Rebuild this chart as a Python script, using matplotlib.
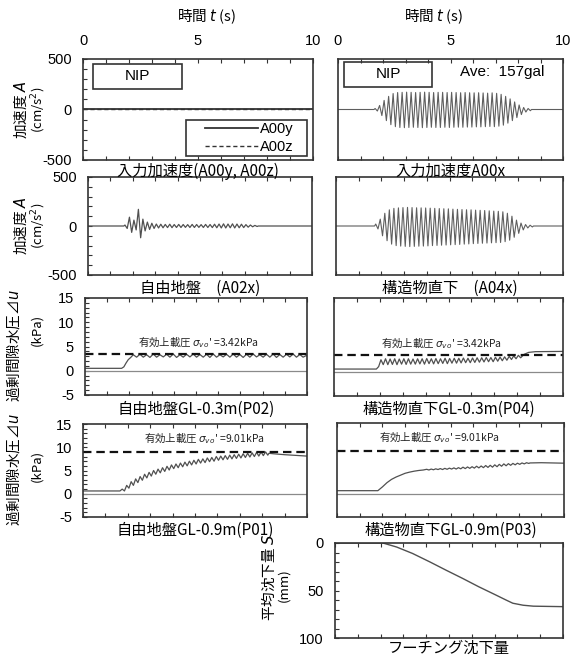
import matplotlib
matplotlib.use("Agg")
import matplotlib.pyplot as plt
from matplotlib.patches import Rectangle
from matplotlib.ticker import MultipleLocator

plt.rcParams["font.family"] = ["Liberation Sans Narrow", "Liberation Sans", "Noto Sans CJK JP"]
plt.rcParams["axes.unicode_minus"] = False
plt.rcParams["mathtext.fontset"] = "dejavusans"

JP = "Noto Sans CJK JP"
NARROW_JP = ["Liberation Sans Narrow", "Noto Sans CJK JP"]

# ---------------- data ----------------
time_limits = [0, 10]

# input acceleration, transverse / vertical components (cm/s^2)
a00y_t = [0.0, 10.0]
a00y_v = [0.0, 0.0]
a00z_t = [0.0, 10.0]
a00z_v = [0.0, 0.0]

# input acceleration A00x: peak / trough of each 0.2 s cycle
a00x_pre_t, a00x_pre_v = [0.0, 1.6], [0.0, 0.0]
a00x_t0, a00x_period = 1.6, 0.2
a00x_hi = [10, 40, 90, 130, 158, 168, 170, 172, 170, 168, 170, 172, 170, 168, 170,
           170, 168, 170, 168, 166, 168, 166, 165, 166, 164, 162, 165, 160, 150, 130,
           105, 75, 45, 20, 10]
a00x_lo = [-15, -60, -110, -150, -170, -178, -180, -178, -176, -178, -180, -178, -176,
           -178, -178, -176, -178, -176, -175, -176, -174, -174, -172, -172, -170, -168,
           -170, -165, -155, -135, -110, -80, -50, -25, -12]
a00x_post_t, a00x_post_v = [8.6, 10.0], [0.0, 0.0]
a00x_average = 157

# free field A02x
a02x_pre_t, a02x_pre_v = [0.0, 1.6], [0.0, 0.0]
a02x_t0, a02x_period = 1.6, 0.2
a02x_hi = [10, 90, 60, 170, 70, 40, 28, 20, 18, 16, 18, 15, 16, 15, 14, 16, 15, 14, 16,
           15, 18, 20, 22, 20, 22, 20, 18, 14, 10, 6]
a02x_lo = [-25, -65, -40, -120, -50, -35, -25, -20, -18, -16, -17, -15, -15, -14, -15,
           -15, -14, -15, -15, -16, -18, -20, -20, -18, -20, -18, -16, -12, -8, -5]
a02x_post_t, a02x_post_v = [7.6, 10.0], [0.0, 0.0]

# beneath structure A04x
a04x_pre_t, a04x_pre_v = [0.0, 1.7], [0.0, 0.0]
a04x_t0, a04x_period = 1.7, 0.2
a04x_hi = [20, 70, 130, 165, 180, 185, 188, 190, 188, 186, 185, 184, 182, 180, 178, 176,
           175, 172, 170, 168, 166, 165, 162, 160, 158, 155, 152, 150, 145, 130, 100, 60,
           30, 15, 8]
a04x_lo = [-30, -100, -150, -185, -200, -205, -208, -210, -208, -206, -205, -203, -200,
           -198, -196, -194, -192, -190, -188, -185, -183, -180, -178, -176, -174, -172,
           -170, -168, -160, -145, -115, -75, -40, -20, -10]
a04x_post_t, a04x_post_v = [8.7, 10.0], [0.0, 0.0]

# effective overburden pressure (kPa)
sigma_vo_03 = 3.42
sigma_vo_09 = 9.01

# excess pore pressure, free field GL-0.3m (P02)
p02_pre_t = [0.0, 1.65, 1.75, 1.85, 1.95, 2.05]
p02_pre_v = [0.5, 0.5, 0.8, 1.6, 2.3, 2.7]
p02_t0, p02_period = 2.1, 0.3
p02_hi = [3.3, 3.4, 3.3, 3.45, 3.3, 3.4, 3.45, 3.3, 3.4, 3.45, 3.35, 3.4, 3.45, 3.3,
          3.4, 3.45, 3.35, 3.4, 3.45, 3.3, 3.4, 3.45, 3.35, 3.4, 3.45, 3.35]
p02_lo = [2.8, 2.8, 2.75, 2.8, 2.85, 2.8, 2.75, 2.8, 2.85, 2.8, 2.8, 2.75, 2.8, 2.85,
          2.8, 2.8, 2.75, 2.8, 2.85, 2.8, 2.8, 2.75, 2.8, 2.85, 2.8, 2.8]
p02_post_t, p02_post_v = [9.95, 10.0], [3.1, 3.1]

# excess pore pressure, beneath structure GL-0.3m (P04)
p04_pre_t = [0.0, 1.85, 1.95]
p04_pre_v = [0.5, 0.5, 1.0]
p04_t0, p04_period = 2.0, 0.2
p04_hi = [2.4, 2.6, 2.55, 2.6, 2.55, 2.6, 2.6, 2.55, 2.6, 2.6, 2.65, 2.6, 2.65, 2.6,
          2.7, 2.65, 2.7, 2.7, 2.75, 2.7, 2.75, 2.8, 2.8, 2.85, 2.85, 2.9, 2.95, 3.0,
          3.1, 3.2, 3.3]
p04_lo = [1.4, 1.4, 1.45, 1.4, 1.5, 1.45, 1.5, 1.5, 1.55, 1.5, 1.6, 1.55, 1.6, 1.65,
          1.6, 1.7, 1.7, 1.75, 1.8, 1.8, 1.85, 1.9, 1.95, 2.0, 2.0, 2.1, 2.2, 2.3, 2.45,
          2.6, 2.8]
p04_post_t = [8.3, 8.5, 8.8, 10.0]
p04_post_v = [3.5, 3.9, 4.05, 4.1]

# excess pore pressure, free field GL-0.9m (P01)
p01_pre_t, p01_pre_v = [0.0, 1.65], [0.6, 0.6]
p01_t0, p01_period = 1.7, 0.2
p01_hi = [1.0, 1.8, 2.6, 3.2, 3.7, 4.2, 4.6, 5.0, 5.3, 5.6, 5.9, 6.2, 6.4, 6.6, 6.8,
          7.0, 7.2, 7.4, 7.5, 7.7, 7.8, 8.0, 8.1, 8.2, 8.3, 8.4, 8.5, 8.6, 8.7, 8.8,
          8.9, 9.0, 9.0]
p01_lo = [0.6, 1.2, 1.8, 2.4, 2.9, 3.4, 3.8, 4.2, 4.5, 4.8, 5.1, 5.4, 5.6, 5.8, 6.0,
          6.2, 6.4, 6.6, 6.7, 6.9, 7.0, 7.2, 7.3, 7.4, 7.5, 7.6, 7.7, 7.8, 7.9, 8.0,
          8.1, 8.2, 8.3]
p01_post_t = [8.3, 8.5, 9.0, 10.0]
p01_post_v = [8.7, 8.6, 8.4, 8.1]

# excess pore pressure, beneath structure GL-0.9m (P03)
p03_pre_t = [0.0, 1.8, 2.0, 2.2, 2.4, 2.6, 2.8, 3.0, 3.2, 3.4, 3.6, 3.8]
p03_pre_v = [0.6, 0.6, 1.4, 2.3, 3.0, 3.5, 3.9, 4.3, 4.55, 4.75, 4.9, 5.0]
p03_t0, p03_period = 3.9, 0.2
p03_hi = [5.15, 5.2, 5.25, 5.3, 5.35, 5.4, 5.45, 5.5, 5.6, 5.65, 5.7, 5.8, 5.85, 5.95,
          6.0, 6.1, 6.2, 6.3, 6.35, 6.4, 6.45, 6.5, 6.55]
p03_lo = [5.0, 5.05, 5.1, 5.1, 5.15, 5.2, 5.2, 5.25, 5.3, 5.35, 5.4, 5.45, 5.5, 5.55,
          5.6, 5.7, 5.8, 5.9, 6.0, 6.1, 6.2, 6.3, 6.4]
p03_post_t = [8.5, 9.0, 10.0]
p03_post_v = [6.5, 6.55, 6.45]

# footing settlement (mm)
settle_t = [0.0, 2.1, 2.7, 3.4, 4.16, 4.87, 5.6, 6.3, 7.05, 7.5, 7.8, 8.25, 8.7, 10.0]
settle_s = [0.0, 0.0, 4.2, 11.0, 19.9, 28.6, 37.3, 46.0, 54.7, 60.0, 63.4, 65.5, 66.5, 67.0]


def build(pre_t, pre_v, t0, period, hi, lo, post_t, post_v):
    """Join a lead-in, the per-cycle peaks/troughs and a tail into one polyline."""
    ts, vs = list(pre_t), list(pre_v)
    for i, (h, l) in enumerate(zip(hi, lo)):
        ts += [t0 + (i + 0.25) * period, t0 + (i + 0.75) * period]
        vs += [h, l]
    return ts + list(post_t), vs + list(post_v)


# ---------------- figure ----------------
W, H = 572, 659
fig = plt.figure(figsize=(W / 100, H / 100), dpi=100)
fig.patch.set_facecolor("white")

SPINE = "#333333"
TRACE = "#505050"
WAVE = "#5e5e5e"

# panel rectangles in pixels: left, top, right, bottom
PX = {
    "L1": (83, 59, 313, 160), "R1": (338, 59, 563, 160),
    "L2": (88, 177, 312, 275), "R2": (336, 177, 563, 275),
    "L3": (85, 298, 307, 395), "R3": (334, 298, 563, 396),
    "L4": (83, 424, 307, 517), "R4": (337, 423, 564, 517),
    "R5": (335, 543, 563, 638),
}


def fx(x):
    return x / W


def fy(y):
    return 1 - y / H


def panel(key, ylim, ymajor, yminor, show_y, top_labels=False):
    l, t, r, b = PX[key]
    ax = fig.add_axes([l / W, 1 - b / H, (r - l) / W, (b - t) / H])
    ax.set_xlim(*time_limits)
    ax.set_ylim(*ylim)
    ax.xaxis.set_major_locator(MultipleLocator(5))
    ax.xaxis.set_minor_locator(MultipleLocator(1))
    ax.tick_params(axis="x", which="both", direction="in", top=True, bottom=True,
                   length=3, width=0.8, color=SPINE, labelbottom=False,
                   labeltop=top_labels, labelsize=10.5, pad=8)
    if show_y:
        ax.yaxis.set_major_locator(MultipleLocator(ymajor))
        ax.yaxis.set_minor_locator(MultipleLocator(yminor))
        ax.tick_params(axis="y", which="both", direction="in", left=True, right=False,
                       length=3, width=0.8, color=SPINE, labelsize=10.5, pad=8)
    else:
        ax.tick_params(axis="y", which="both", left=False, right=False, labelleft=False)
    for s in ax.spines.values():
        s.set_color(SPINE)
        s.set_linewidth(1.2)
    return ax


def caption(key, text, y):
    l, t, r, b = PX[key]
    fig.text(fx((l + r) / 2), fy(y), text, ha="center", va="center",
             family=NARROW_JP, fontsize=11)


def box(x0, y0, x1, y1):
    fig.patches.append(Rectangle((fx(x0), fy(y1)), (x1 - x0) / W, (y1 - y0) / H,
                                 transform=fig.transFigure, fill=False,
                                 edgecolor=SPINE, linewidth=1.2))


def overburden(ax, value, tx, ty):
    ax.axhline(value, color="#111111", lw=1.6, dashes=(3.8, 2.2))
    ax.text(tx, ty, "有効上載圧 $\\sigma_{vo}$' =%.2fkPa" % value, ha="center",
            va="center", family=JP, fontsize=7.5, color="#222222")


# row 1 -------------------------------------------------------------
ax = panel("L1", (-500, 500), 500, 100, True, top_labels=True)
ly, = ax.plot(a00y_t, a00y_v, color=SPINE, lw=1.3)
lz, = ax.plot(a00z_t, a00z_v, color=SPINE, lw=1.0, dashes=(3, 2))
ax.legend([ly, lz], ["A00y", "A00z"], loc="center left",
          bbox_to_anchor=(fx(205), fy(138)), bbox_transform=fig.transFigure,
          frameon=False, borderpad=0, borderaxespad=0, handlelength=3.6,
          handletextpad=0.15, labelspacing=0.25, fontsize=10.5)
box(186, 120, 307, 156)
box(93, 64, 182, 89)
fig.text(fx(137.5), fy(76.5), "NIP", ha="center", va="center", fontsize=11)
caption("L1", "入力加速度(A00y, A00z)", 171)

ax = panel("R1", (-500, 500), 500, 100, False, top_labels=True)
ax.plot(*build(a00x_pre_t, a00x_pre_v, a00x_t0, a00x_period, a00x_hi, a00x_lo,
               a00x_post_t, a00x_post_v), color=WAVE, lw=0.8)
box(344, 62, 432, 87)
fig.text(fx(388), fy(74.5), "NIP", ha="center", va="center", fontsize=11)
fig.text(fx(502), fy(72), "Ave:  %dgal" % a00x_average, ha="center", va="center",
         fontsize=11)
caption("R1", "入力加速度A00x", 171)

# row 2 -------------------------------------------------------------
ax = panel("L2", (-500, 500), 500, 100, True)
ax.plot(*build(a02x_pre_t, a02x_pre_v, a02x_t0, a02x_period, a02x_hi, a02x_lo,
               a02x_post_t, a02x_post_v), color=TRACE, lw=0.9)
caption("L2", "自由地盤\u3000(A02x)", 288)

ax = panel("R2", (-500, 500), 500, 100, False)
ax.plot(*build(a04x_pre_t, a04x_pre_v, a04x_t0, a04x_period, a04x_hi, a04x_lo,
               a04x_post_t, a04x_post_v), color=WAVE, lw=0.8)
caption("R2", "構造物直下\u3000(A04x)", 288)

# row 3 -------------------------------------------------------------
ax = panel("L3", (-5, 15), 5, 1, True)
ax.axhline(0, color="#8a8a8a", lw=0.9)
ax.plot(*build(p02_pre_t, p02_pre_v, p02_t0, p02_period, p02_hi, p02_lo,
               p02_post_t, p02_post_v), color=TRACE, lw=0.9)
overburden(ax, sigma_vo_03, 5.1, 5.8)
caption("L3", "自由地盤GL-0.3m(P02)", 409)

ax = panel("R3", (-5, 15), 5, 1, False)
ax.axhline(0, color="#8a8a8a", lw=0.9)
ax.plot(*build(p04_pre_t, p04_pre_v, p04_t0, p04_period, p04_hi, p04_lo,
               p04_post_t, p04_post_v), color=TRACE, lw=0.9)
overburden(ax, sigma_vo_03, 4.7, 5.8)
caption("R3", "構造物直下GL-0.3m(P04)", 409)

# row 4 -------------------------------------------------------------
ax = panel("L4", (-5, 15), 5, 1, True)
ax.axhline(0, color="#8a8a8a", lw=0.9)
ax.plot(*build(p01_pre_t, p01_pre_v, p01_t0, p01_period, p01_hi, p01_lo,
               p01_post_t, p01_post_v), color=TRACE, lw=0.9)
overburden(ax, sigma_vo_09, 5.4, 12.0)
caption("L4", "自由地盤GL-0.9m(P01)", 530)

ax = panel("R4", (-5, 15), 5, 1, False)
ax.axhline(0, color="#8a8a8a", lw=0.9)
ax.plot(*build(p03_pre_t, p03_pre_v, p03_t0, p03_period, p03_hi, p03_lo,
               p03_post_t, p03_post_v), color=TRACE, lw=0.9)
overburden(ax, sigma_vo_09, 4.5, 12.0)
caption("R4", "構造物直下GL-0.9m(P03)", 530)

# row 5 -------------------------------------------------------------
ax = panel("R5", (100, 0), 50, 10, True)
ax.plot(settle_t, settle_s, color=TRACE, lw=1.0)
caption("R5", "フーチング沈下量", 648)

# axis titles ---------------------------------------------------------
for x in (206, 433):
    fig.text(fx(x), fy(17), "時間 $t$ (s)", ha="center", va="center",
             family=JP, fontsize=10.5)

for yc in (110, 226):
    fig.text(fx(21), fy(yc), "加速度 $A$", rotation=90, ha="center", va="center",
             family=JP, fontsize=10.5)
    fig.text(fx(39), fy(yc), "(cm/s$^2$)", rotation=90, ha="center", va="center",
             family=JP, fontsize=9.5)

for yc, yk in ((346, 330), (470, 466)):
    fig.text(fx(13), fy(yc), "過剰間隙水圧⊿$u$", rotation=90, ha="center",
             va="center", family=JP, fontsize=10.5)
    fig.text(fx(37), fy(yk), "(kPa)", rotation=90, ha="center", va="center",
             family=JP, fontsize=9.5)

fig.text(fx(268), fy(578), "平均沈下量 $S$", rotation=90, ha="center", va="center",
         family=JP, fontsize=10.5)
fig.text(fx(284), fy(585), "(mm)", rotation=90, ha="center", va="center",
         family=JP, fontsize=9.5)

fig.savefig("out.png", dpi=100, facecolor="white")
